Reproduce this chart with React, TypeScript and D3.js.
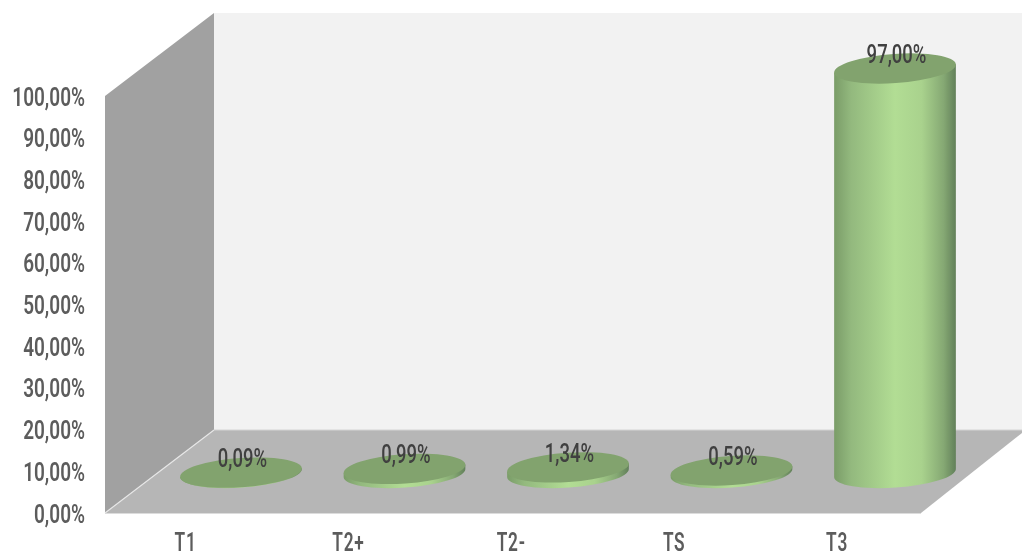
import React from "react";
import * as d3 from "d3";

const categories = ["T1", "T2+", "T2-", "TS", "T3"];
const values = [0.09, 0.99, 1.34, 0.59, 97.0];
const valueLabels = ["0,09%", "0,99%", "1,34%", "0,59%", "97,00%"];
const ticks = [0, 10, 20, 30, 40, 50, 60, 70, 80, 90, 100];

const W = 1022, H = 553;
const front = { x0: 105, x1: 921, y0: 513, y1: 96 };
const back = { x0: 214, y0: 430, y1: 13 };
const yAxis = d3.scaleLinear().domain([0, 100]).range([front.y0, front.y1]);
const hScale = d3.scaleLinear().domain([0, 100]).range([0, front.y0 - front.y1]);
const xBar = d3.scalePoint<string>().domain(categories).range([241, 895]);
const xCat = d3.scalePoint<string>().domain(categories).range([185.5, 837]);
const BASE_Y = 473, RX = 61, RY = 14.6, TILT = 4;
const FONT = "Roboto, 'Liberation Sans', sans-serif";
const rad = (TILT * Math.PI) / 180;

function Condensed({ x, y, text, anchor, fill, sx, sy = 1, size, weight, spacing = 0 }: any) {
  return (
    <text transform={`translate(${x},${y}) scale(${sx},${sy})`} textAnchor={anchor} dominantBaseline="central"
      fontFamily={FONT} fontSize={size} fontWeight={weight} fill={fill} letterSpacing={spacing}>{text}</text>
  );
}

function Cylinder({ cx, value, label }: any) {
  const h = hScale(value);
  const topY = BASE_Y - h;
  const dx = RX * Math.cos(rad), dy = RX * Math.sin(rad);
  const side = `M${cx - dx},${topY + dy} L${cx - dx},${BASE_Y + dy} A${RX},${RY} ${-TILT} 0 0 ${cx + dx},${BASE_Y - dy} L${cx + dx},${topY - dy} Z`;
  return (
    <g>
      <g filter="url(#soft)">
        <path d={side} fill="url(#body)" />
        <ellipse cx={cx} cy={topY} rx={RX} ry={RY} fill="#82a36e" transform={`rotate(${-TILT} ${cx} ${topY})`} />
      </g>
      <g filter="url(#soft)">
        <Condensed x={cx + 1.5} y={topY - 14.5} text={label} anchor="middle" fill="#3f3f3f" sx={0.74} sy={1.05} size={25} weight={500} />
      </g>
    </g>
  );
}

export default function App() {
  return (
    <svg width={W} height={H} viewBox={`0 0 ${W} ${H}`} style={{ position: "absolute", left: 0, top: 0, background: "#fff" }}>
      <defs>
        <linearGradient id="body" x1="0" x2="1" y1="0" y2="0">
          <stop offset="0" stopColor="#7a9c68" />
          <stop offset="0.14" stopColor="#93b97e" />
          <stop offset="0.5" stopColor="#b2dd94" />
          <stop offset="0.72" stopColor="#a9d28d" />
          <stop offset="0.9" stopColor="#85a873" />
          <stop offset="1" stopColor="#62805a" />
        </linearGradient>
        <filter id="soft" x="-10%" y="-10%" width="120%" height="120%">
          <feGaussianBlur stdDeviation="0.5" />
        </filter>
      </defs>
      <g filter="url(#soft)">
        <rect x={back.x0} y={back.y1} width={W - back.x0} height={back.y0 - back.y1} fill="#f2f2f2" />
        <polygon points={`${front.x0},${front.y1} ${back.x0},${back.y1} ${back.x0},${back.y0} ${front.x0},${front.y0}`} fill="#a1a1a1" />
        <polygon points={`${front.x0},${front.y0} ${back.x0},${back.y0} ${W},${back.y0} ${W},${back.y0 + 3} ${front.x1},${front.y0}`} fill="#b6b6b6" />
        <line x1={front.x0} y1={front.y0} x2={back.x0} y2={back.y0} stroke="#e6e6e6" strokeWidth={1.2} />
        <line x1={back.x0} y1={back.y0} x2={W} y2={back.y0} stroke="#d4d4d4" strokeWidth={1} />
        <line x1={front.x0} y1={front.y0 + 0.5} x2={front.x1} y2={front.y0 + 0.5} stroke="#dcdcdc" strokeWidth={1.2} />
      </g>
      <g filter="url(#soft)">
        {ticks.map((t) => (
          <Condensed key={t} x={85} y={yAxis(t) + 0.5} text={`${t},00%`} anchor="end" fill="#5c5c5c" sx={0.76} size={25} weight={600} />
        ))}
        {categories.map((c) => (
          <Condensed key={c} x={xCat(c)} y={542} text={c} anchor="middle" fill="#5c5c5c" sx={0.72} sy={1.05} size={24} weight={600} spacing={1} />
        ))}
      </g>
      {categories.map((c, i) => (
        <Cylinder key={c} cx={xBar(c)} value={values[i]} label={valueLabels[i]} />
      ))}
    </svg>
  );
}
